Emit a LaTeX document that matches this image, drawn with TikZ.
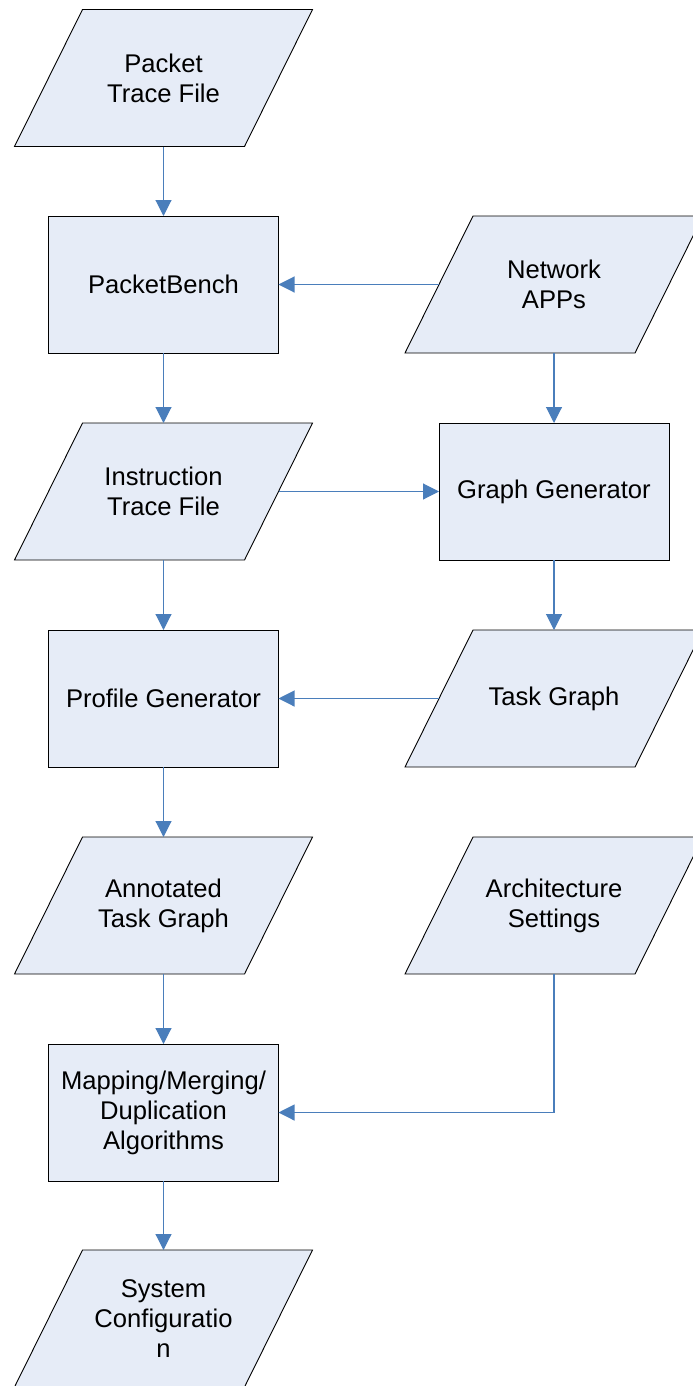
\documentclass[tikz,border=0pt]{standalone}
\usepackage{fontspec}
\setmainfont{Liberation Sans}
\usetikzlibrary{arrows.meta,backgrounds}
\definecolor{boxfill}{HTML}{E6ECF7}
\definecolor{arrowblue}{HTML}{4A7EBB}
\begin{document}
\begin{tikzpicture}[x=1pt,y=-1pt,
  every node/.style={font=\fontsize{25.6}{30}\selectfont, align=center, inner sep=0pt, outer sep=0pt},
  procbox/.style={rectangle, draw=black, line width=0.9pt, fill=boxfill, minimum width=230pt, minimum height=137pt},
  databox/.style={rectangle, minimum width=230pt, minimum height=137pt},
  parashape/.style={draw=black, line width=0.9pt, fill=boxfill},
  flow/.style={draw=arrowblue, line width=1.1pt, -{Triangle[width=16pt,length=16pt]}}]
\useasboundingbox (0,0) rectangle (693,1386);
\clip (0,0) rectangle (693,1386);
% left column
\node[databox] (ptf) at (163.5,78) {Packet\\Trace File};
\node[procbox] (pb) at (163.5,284.5) {PacketBench};
\node[databox] (itf) at (163.5,491.5) {Instruction\\Trace File};
\node[procbox] (pg) at (163.5,698.5) {Profile Generator};
\node[databox] (atg) at (163.5,905.5) {Annotated\\Task Graph};
\node[procbox] (map) at (163.5,1112.5) {Mapping/Merging/\\Duplication\\Algorithms};
\node[databox] (sc) at (163.5,1318.5) {System\\Configuratio\\n};
% right column
\node[databox] (napp) at (554,284.5) {Network\\APPs};
\node[procbox] (gg) at (554,491.5) {Graph Generator};
\node[databox] (tg) at (554,698.5) {Task Graph};
\node[databox] (arch) at (554,905.5) {Architecture\\Settings};
% parallelogram outlines behind the text
\begin{scope}[on background layer]
\foreach \n in {ptf,itf,atg,sc,napp,tg,arch}{
  \path[parashape] ([xshift=-34pt]\n.south west) -- ([xshift=-34pt]\n.south east)
     -- ([xshift=34pt]\n.north east) -- ([xshift=34pt]\n.north west) -- cycle;
}
\end{scope}
% connectors
\draw[flow] (ptf.south) -- (pb.north);
\draw[flow] (pb.south) -- (itf.north);
\draw[flow] (itf.south) -- (pg.north);
\draw[flow] (pg.south) -- (atg.north);
\draw[flow] (atg.south) -- (map.north);
\draw[flow] (map.south) -- (sc.north);
\draw[flow] (napp.west) -- (pb.east);
\draw[flow] (napp.south) -- (gg.north);
\draw[flow] (itf.east) -- (gg.west);
\draw[flow] (gg.south) -- (tg.north);
\draw[flow] (tg.west) -- (pg.east);
\draw[flow] (arch.south) |- (map.east);
\end{tikzpicture}
\end{document}
